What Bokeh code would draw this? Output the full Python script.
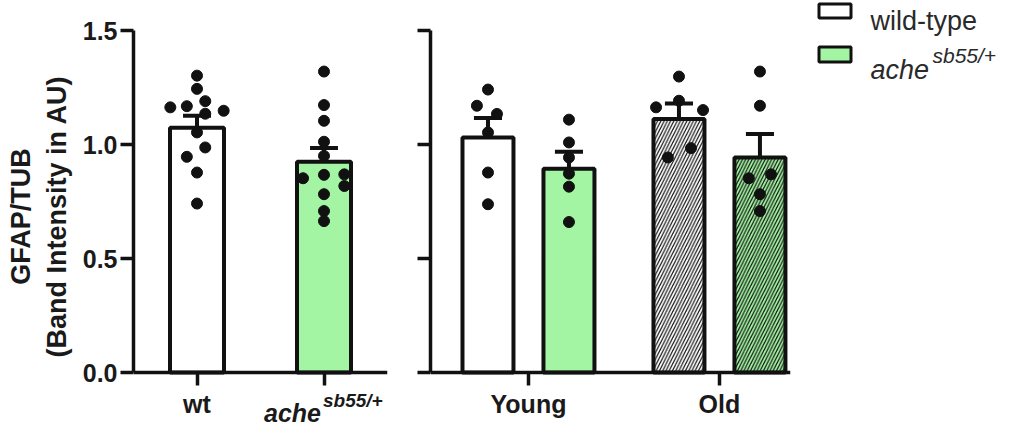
from bokeh.plotting import figure
from bokeh.layouts import row
from bokeh.models import Range1d, FixedTicker, PrintfTickFormatter
from bokeh.core.properties import value
from bokeh.embed import file_html
from bokeh.resources import INLINE

# ---------------- data ----------------
y_ticks = [0.0, 0.5, 1.0, 1.5]

# left panel: genotype only
left_groups = ["wt", "ache"]
left_mean = [1.073, 0.924]
left_sem = [0.053, 0.061]
wt_vals = [1.302, 1.244, 1.163, 1.168, 1.190, 1.148, 1.135, 1.053, 0.987, 0.946, 0.877, 0.741]
wt_jit = [0, 0, -0.21, -0.08, 0.065, 0.21, 0.065, 0, 0.065, -0.08, 0, 0]
ache_vals = [1.320, 1.173, 1.104, 1.012, 0.950, 0.852, 0.867, 0.869, 0.818, 0.782, 0.708, 0.664]
ache_jit = [0, 0, 0, 0, 0, -0.165, 0, 0.16, 0.16, 0, 0, 0]
ache_label = ["ache", "sb55/+"]

# right panel: age x genotype
ages = ["Young", "Old"]
genotypes = ["wt", "ache"]
right_mean = {"wt": [1.031, 1.112], "ache": [0.894, 0.943]}
right_sem = {"wt": [0.085, 0.068], "ache": [0.074, 0.103]}
young_wt_vals = [1.241, 1.170, 1.134, 1.053, 0.877, 0.738]
young_wt_jit = [0, -0.058, 0.047, 0, 0, 0]
young_ache_vals = [1.109, 1.009, 0.943, 0.872, 0.815, 0.660]
young_ache_jit = [0, 0, 0, 0, 0, 0]
old_wt_vals = [1.298, 1.192, 1.163, 1.151, 0.943, 0.984]
old_wt_jit = [0, 0, -0.12, 0.126, -0.058, 0.063]
old_ache_vals = [1.320, 1.170, 0.852, 0.869, 0.782, 0.708]
old_ache_jit = [0, 0, -0.058, 0.058, 0, 0]

legend_labels = ["wild-type", "ache", "sb55/+"]

# ---------------- geometry / styles ----------------
FONT = "Liberation Sans"
GREEN = "#a3f5a3"
INK = "#111111"
TXT = "#1a1a1a"
fills = {"wt": "white", "ache": GREEN}

H = 432
TOP = 30          # pixel row of y = 1.5
AXIS_Y = 372      # pixel row of y = 0
PX_PER_UNIT = (AXIS_Y - TOP) / 1.5
Y_BOTTOM = 1.5 - (H - TOP) / PX_PER_UNIT   # frame reaches the bottom edge
Y_TOP = 1.5 + TOP / PX_PER_UNIT            # frame reaches the top edge


def px(dy):
    """pixel distance -> data units (y)"""
    return dy / PX_PER_UNIT


def style_axes(p):
    p.grid.visible = False
    p.outline_line_color = None
    p.background_fill_color = "white"
    p.border_fill_color = "white"
    for ax in p.axis:
        ax.axis_line_width = 3.5
        ax.axis_line_color = INK
        ax.major_tick_line_width = 3.5
        ax.major_tick_line_color = INK
        ax.major_tick_out = 13
        ax.major_tick_in = 0
        ax.minor_tick_line_color = None
        ax.major_label_text_font = FONT
        ax.major_label_text_font_style = "bold"
        ax.major_label_text_font_size = "25px"
        ax.major_label_text_color = TXT
        ax.major_label_standoff = 4
        ax.axis_label_text_font = FONT
    p.yaxis.ticker = FixedTicker(ticks=y_ticks)
    p.yaxis.formatter = PrintfTickFormatter(format="%.1f")
    p.yaxis.bounds = (0, 1.5)
    p.yaxis.major_label_standoff = 3
    p.xaxis.fixed_location = 0


def error_bars(p, xs, means, sems, cap):
    tops = [m + s for m, s in zip(means, sems)]
    p.segment(x0=xs, x1=xs, y0=means, y1=tops, line_width=4, line_color=INK)
    p.segment(x0=[x - cap / 2 for x in xs], x1=[x + cap / 2 for x in xs],
              y0=tops, y1=tops, line_width=4, line_color=INK)


def dots(p, x0, vals, jit):
    p.scatter(x=[x0 + j for j in jit], y=vals, size=11, color=INK, line_color=INK)


# ---------------- left panel ----------------
p1 = figure(width=400, height=H, x_range=Range1d(-0.5, 1.5), y_range=Range1d(Y_BOTTOM, Y_TOP),
            output_backend="svg", toolbar_location=None, title=None,
            min_border_left=133, min_border_right=13, min_border_top=0, min_border_bottom=0)
style_axes(p1)
xl = list(range(len(left_groups)))
p1.vbar(x=xl, top=left_mean, width=0.425, bottom=0,
        fill_color=[fills[g] for g in left_groups], line_color=INK, line_width=4)
error_bars(p1, xl, left_mean, left_sem, 0.22)
dots(p1, xl[0], wt_vals, wt_jit)
dots(p1, xl[1], ache_vals, ache_jit)
p1.xaxis.ticker = FixedTicker(ticks=xl)
p1.xaxis.major_label_overrides = {0: left_groups[0], 1: ""}
p1.yaxis.axis_label = "GFAP/TUB\n(Band Intensity in AU)"
p1.yaxis.axis_label_text_font_size = "27px"
p1.yaxis.axis_label_text_font_style = "bold"
p1.yaxis.axis_label_text_color = TXT
p1.yaxis.axis_label_standoff = 8

# italic genotype label with superscript allele, under the second tick
p1.text(x=[xl[1]], y=[-px(40)], x_offset=-60, text=[ache_label[0]], text_font=value(FONT),
        text_font_style="bold italic", text_font_size="25px", text_color=TXT,
        text_baseline="alphabetic", text_align="left")
p1.text(x=[xl[1]], y=[-px(28)], x_offset=-1, text=[ache_label[1]], text_font=value(FONT),
        text_font_style="bold italic", text_font_size="19px", text_color=TXT,
        text_baseline="alphabetic", text_align="left")

# ---------------- right panel ----------------
p2 = figure(width=395, height=H, x_range=Range1d(-0.513, 1.372), y_range=Range1d(Y_BOTTOM, Y_TOP),
            output_backend="svg", toolbar_location=None, title=None,
            min_border_left=30, min_border_right=5, min_border_top=0, min_border_bottom=0)
style_axes(p2)
p2.yaxis.major_label_text_font_size = "0px"
p2.yaxis.major_label_text_color = None
dodge_off = {"wt": -0.212, "ache": 0.212}
xa = list(range(len(ages)))
for g in genotypes:
    xs = [x + dodge_off[g] for x in xa]
    p2.vbar(x=xs, top=right_mean[g], width=0.267, bottom=0, fill_color=fills[g],
            line_color=INK, line_width=4,
            hatch_pattern=[" ", "/"], hatch_color=INK, hatch_weight=1.2, hatch_scale=6.5)
    error_bars(p2, xs, right_mean[g], right_sem[g], 0.147)
dots(p2, xa[0] + dodge_off["wt"], young_wt_vals, young_wt_jit)
dots(p2, xa[0] + dodge_off["ache"], young_ache_vals, young_ache_jit)
dots(p2, xa[1] + dodge_off["wt"], old_wt_vals, old_wt_jit)
dots(p2, xa[1] + dodge_off["ache"], old_ache_vals, old_ache_jit)
p2.xaxis.ticker = FixedTicker(ticks=xa)
p2.xaxis.major_label_overrides = {i: a for i, a in enumerate(ages)}

# ---------------- legend panel (pixel coordinates) ----------------
p3 = figure(width=222, height=H, x_range=Range1d(795, 1017), y_range=Range1d(H, 0),
            output_backend="svg", toolbar_location=None, title=None,
            x_axis_location=None, y_axis_location=None,
            min_border_left=0, min_border_right=0, min_border_top=0, min_border_bottom=0)
p3.grid.visible = False
p3.outline_line_color = None
p3.quad(left=[818.5, 818.5], right=[850.5, 850.5], top=[3.5, 46.5], bottom=[17.5, 61.5],
        fill_color=["white", GREEN], line_color=INK, line_width=3)
p3.text(x=[870], y=[20], text=[legend_labels[0]], text_font=value(FONT), text_font_size="27px",
        text_color="#2a2a2a", text_baseline="alphabetic")
p3.text(x=[870], y=[69], text=[legend_labels[1]], text_font=value(FONT), text_font_size="27px",
        text_font_style="italic", text_color="#2a2a2a", text_baseline="alphabetic")
p3.text(x=[932], y=[55], text=[legend_labels[2]], text_font=value(FONT), text_font_size="21px",
        text_font_style="italic", text_color="#2a2a2a", text_baseline="alphabetic")

layout = row(p1, p2, p3)
open("out.html", "w").write(file_html(layout, INLINE))
